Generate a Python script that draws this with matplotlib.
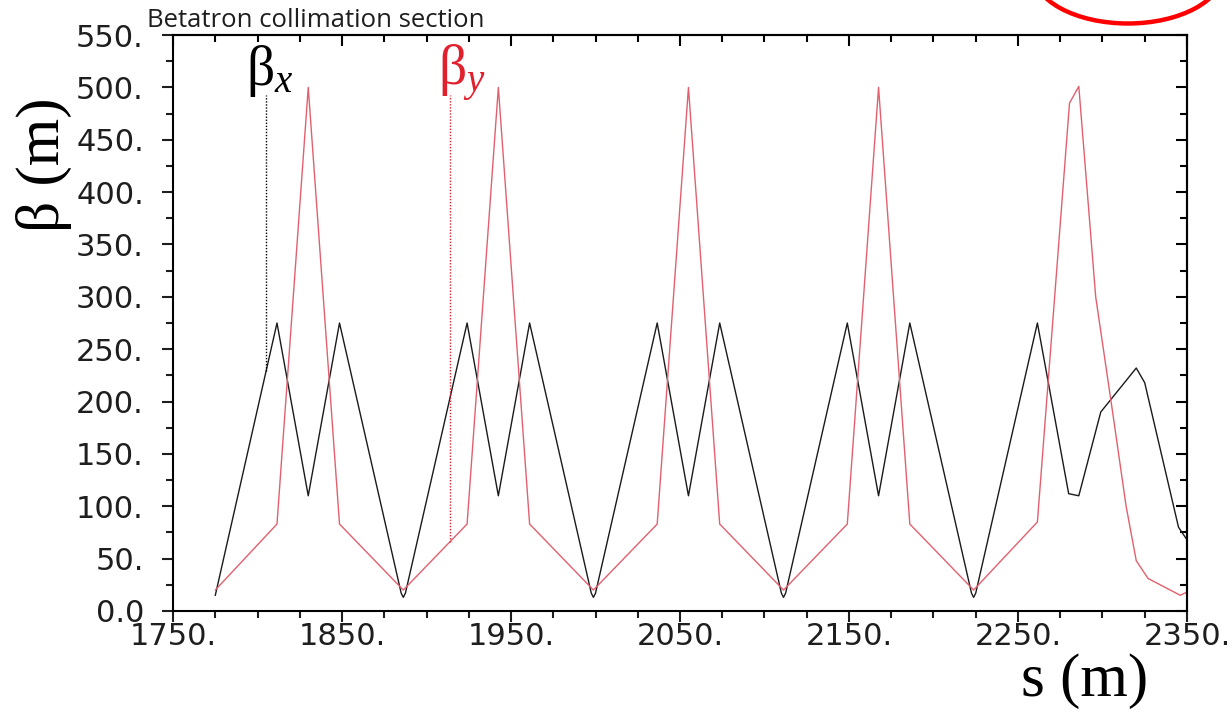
import numpy as np
import matplotlib
matplotlib.use("Agg")
import matplotlib.pyplot as plt
from matplotlib.ticker import FixedLocator, MultipleLocator, FuncFormatter
from matplotlib.patches import Ellipse

# upright beta with an italic subscript, both in the serif face
plt.rcParams['mathtext.fontset'] = 'custom'
plt.rcParams['mathtext.rm'] = 'Liberation Serif'
plt.rcParams['mathtext.it'] = 'Liberation Serif:italic'

# horizontal beta function along the collimation section
s_x = [1775, 1811.5, 1830, 1848.5, 1885, 1886.25, 1887.5,
       1924, 1942.5, 1961, 1997.5, 1998.75, 2000,
       2036.5, 2055, 2073.5, 2110, 2111.25, 2112.5,
       2149, 2167.5, 2186, 2222.5, 2223.75, 2225,
       2261.5, 2280, 2286, 2299, 2320, 2325, 2345, 2350]
beta_x = [15, 275, 110, 275, 17, 13, 17,
          275, 110, 275, 17, 13, 17,
          275, 110, 275, 17, 13, 17,
          275, 110, 275, 17, 13, 17,
          275, 112, 110, 190, 232, 218, 80, 68]

# vertical beta function
s_y = [1775, 1811.5, 1830, 1848.5, 1886.25,
       1924, 1942.5, 1961, 1998.75,
       2036.5, 2055, 2073.5, 2111.25,
       2149, 2167.5, 2186, 2223.75,
       2261.5, 2280.5, 2286, 2296, 2306, 2314, 2320, 2327, 2346, 2350]
beta_y = [20, 83, 500, 83, 20,
          83, 500, 83, 20,
          83, 500, 83, 20,
          83, 500, 83, 20,
          85, 485, 501, 300, 190, 100, 48, 31, 15, 18]

x_ticks = [1750, 1850, 1950, 2050, 2150, 2250, 2350]
y_ticks = [0, 50, 100, 150, 200, 250, 300, 350, 400, 450, 500, 550]

# curve labels: (text, s of label, s of pointer, colour)
labels = [(r'$\mathrm{β}_{x}$', 1793, 1805, 'black'),
          (r'$\mathrm{β}_{y}$', 1907, 1914, '#e0202c')]

black = '#1a1a1a'
red = '#e2606e'

fig = plt.figure(figsize=(12.3, 7.12), dpi=100)
ax = fig.add_axes([0.1407, 0.1419, 0.8243, 0.8089])

ax.plot(s_x, beta_x, color=black, lw=1.0)
ax.plot(s_y, beta_y, color=red, lw=1.0)

# labels with pointer lines down to their curve
for (txt, s_lab, s0, col), (sc, bc) in zip(labels, [(s_x, beta_x), (s_y, beta_y)]):
    b0 = np.interp(s0, sc, bc)
    ax.plot([s0, s0], [b0, 493], color=col, lw=1.0, ls=(0, (1, 1.2)))
    ax.text(s_lab, 502, txt, color=col, fontsize=40, ha='left', va='baseline')

ax.set_xlim(1750, 2350)
ax.set_ylim(0, 550)

fmt = FuncFormatter(lambda v, p: '0.0' if v == 0 else f'{v:.0f}.')
ax.xaxis.set_major_locator(FixedLocator(x_ticks))
ax.xaxis.set_minor_locator(MultipleLocator(25))
ax.yaxis.set_major_locator(FixedLocator(y_ticks))
ax.yaxis.set_minor_locator(MultipleLocator(25))
ax.xaxis.set_major_formatter(fmt)
ax.yaxis.set_major_formatter(fmt)
ax.tick_params(which='both', direction='out', width=1.5, labelsize=22,
               labelfontfamily='DejaVu Sans', colors='#1e1e1e')
ax.tick_params(which='major', length=8)
ax.tick_params(which='minor', length=5)
ax.tick_params(axis='x', pad=0)
ax.tick_params(axis='y', pad=13)

# inward ticks on the top and right frame
top = ax.secondary_xaxis('top')
top.xaxis.set_major_locator(FixedLocator(x_ticks))
top.xaxis.set_minor_locator(MultipleLocator(25))
top.tick_params(which='both', direction='in', width=1.5, labeltop=False)
top.tick_params(which='major', length=8)
top.tick_params(which='minor', length=5)
right = ax.secondary_yaxis('right')
right.yaxis.set_major_locator(FixedLocator(y_ticks))
right.yaxis.set_minor_locator(MultipleLocator(25))
right.tick_params(which='both', direction='in', width=1.5, labelright=False)
right.tick_params(which='major', length=8)
right.tick_params(which='minor', length=5)
for sp in list(ax.spines.values()) + [top.spines['top'], right.spines['right']]:
    sp.set_linewidth(1.5)

fig.text(0.036, 0.768, 'β (m)', family='Liberation Serif', fontsize=44,
         rotation=90, ha='center', va='center')
fig.text(0.882, 0.022, 's (m)', family='Liberation Serif', fontsize=44,
         ha='center', va='baseline')
fig.text(0.1195, 0.962, 'Betatron collimation section', family='Open Sans',
         fontsize=18.5, ha='left', va='baseline', color='#1e1e1e')

fig.add_artist(Ellipse((0.917, 1.04), 0.155, 0.146, transform=fig.transFigure,
                       fill=False, edgecolor='#ff0000', lw=3.2, clip_on=False))

fig.savefig('out.png', dpi=100)
